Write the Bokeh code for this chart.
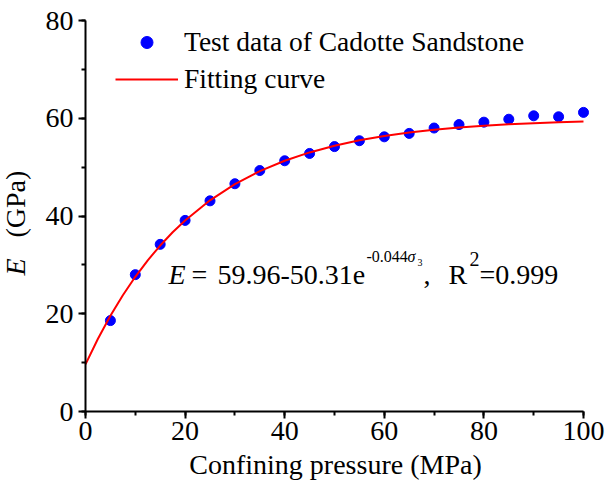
import math
from bokeh.plotting import figure
from bokeh.models import Range1d, SingleIntervalTicker, Label, Legend, LegendItem
from bokeh.embed import file_html
from bokeh.resources import INLINE

# ---- data ----
pressure = [5, 10, 15, 20, 25, 30, 35, 40, 45, 50, 55, 60, 65, 70, 75, 80, 85, 90, 95, 100]
modulus = [18.6, 28.0, 34.2, 39.1, 43.1, 46.6, 49.3, 51.3, 52.8, 54.2, 55.4, 56.2, 56.9,
           58.0, 58.7, 59.2, 59.8, 60.5, 60.3, 61.2]
fit_x = [0, 2.5, 5, 7.5, 10, 12.5, 15, 17.5, 20, 25, 30, 35, 40, 45, 50, 55, 60, 65, 70,
         75, 80, 85, 90, 95, 100]
fit_y = [9.65, 14.89, 19.59, 23.79, 27.56, 30.94, 33.96, 36.67, 39.09, 43.21, 46.52, 49.18,
         51.30, 53.01, 54.39, 55.49, 56.37, 57.08, 57.65, 58.10, 58.47, 58.76, 59.00, 59.19, 59.34]
x_ticks_interval = 20
y_ticks_interval = 20

FONT = "Liberation Serif"
FS = "28px"

W, H = 607, 491
# where the axes' data extent sits on the canvas (px)
AL, AR, AT, AB = 85, 583, 20, 411
X0, X1, Y0, Y1 = 0, 100, 0, 80
sx = (AR - AL) / (X1 - X0)
sy = (AB - AT) / (Y1 - Y0)

# frame covers the whole canvas; axes are drawn at fixed locations inside it
x_range = Range1d(X0 - AL / sx, X1 + (W - AR) / sx)
y_range = Range1d(Y0 - (H - AB) / sy, Y1 + AT / sy)

p = figure(width=W, height=H, x_range=x_range, y_range=y_range,
           output_backend="svg", toolbar_location=None,
           min_border_left=0, min_border_right=0, min_border_top=0, min_border_bottom=0)
p.xgrid.visible = False
p.ygrid.visible = False
p.outline_line_color = None
p.background_fill_color = "white"
p.border_fill_color = "white"

p.xaxis.ticker = SingleIntervalTicker(interval=x_ticks_interval, num_minor_ticks=2)
p.yaxis.ticker = SingleIntervalTicker(interval=y_ticks_interval, num_minor_ticks=2)
p.xaxis.fixed_location = Y0
p.yaxis.fixed_location = X0
p.xaxis.bounds = (X0, X1)
p.yaxis.bounds = (Y0, Y1)
for ax in (p.xaxis, p.yaxis):
    ax.axis_line_width = 2
    ax.axis_line_color = "black"
    ax.major_tick_line_width = 2
    ax.minor_tick_line_width = 2
    ax.major_tick_line_color = "black"
    ax.minor_tick_line_color = "black"
    ax.major_tick_in = 0
    ax.minor_tick_in = 0
    ax.major_tick_out = 7
    ax.minor_tick_out = 4
    ax.major_label_text_font = FONT
    ax.major_label_text_font_size = FS
    ax.major_label_text_color = "black"
p.xaxis.major_label_standoff = 3
p.yaxis.major_label_standoff = 5

sc = p.scatter(pressure, modulus, size=10, color="#0000FF", line_color="#0000FF")
ln = p.line(fit_x, fit_y, color="#FF0000", line_width=2)

legend = Legend(items=[LegendItem(label="Test data of Cadotte Sandstone", renderers=[sc]),
                       LegendItem(label="Fitting curve", renderers=[ln])],
                location=(AL + 30, H - 95), glyph_width=63, glyph_height=30, label_height=30,
                spacing=5, label_standoff=6, padding=0, margin=0,
                border_line_color=None, background_fill_alpha=0,
                label_text_font=FONT, label_text_font_size="27.5px", label_text_color="black")
p.add_layout(legend)


def lab(text, px, py, size=FS, style="normal", align="left", angle=0.0):
    # px, py: canvas pixels from top-left (frame == canvas)
    p.add_layout(Label(x=px, y=H - py, x_units="screen", y_units="screen",
                       text=text, text_font=FONT, text_font_size=size,
                       text_font_style=style, text_align=align, text_baseline="middle",
                       text_color="black", angle=angle))


# axis titles
lab("Confining pressure (MPa)", 335, 464, align="center")
lab("E", 14.5, 275, style="italic", angle=math.pi / 2)
lab("(GPa)", 14.5, 237, angle=math.pi / 2)

# equation
lab("E", 168, 274, style="italic")
lab("=", 191, 274)
lab("59.96-50.31e", 217, 274)
lab("-0.044", 366, 256, size="16px")
lab("σ", 407, 256, size="16px", style="italic")
lab("3", 417, 261.5, size="10px")
lab(",", 423, 274)
lab("R", 448, 274)
lab("2", 469, 258, size="20px")
lab("=0.999", 479, 274)

open("out.html", "w").write(file_html(p, INLINE))
